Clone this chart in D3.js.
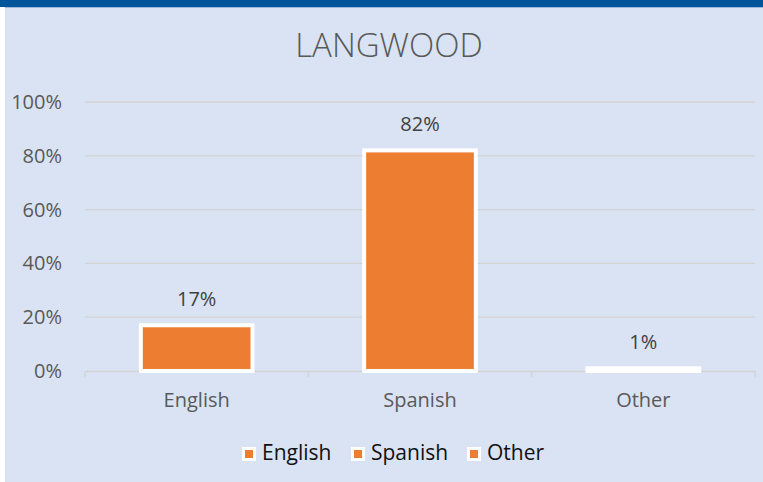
<!DOCTYPE html>
<html>
<head>
<meta charset="utf-8">
<script src="https://cdn.jsdelivr.net/npm/d3@7"></script>
<style>
  body { margin: 0; background: #fff; }
  text { font-family: "Open Sans", sans-serif; }
</style>
</head>
<body>
<div id="bar_chart"></div>
<script>
const categories = ["English", "Spanish", "Other"];
const values = [0.17, 0.82, 0.01];
const valueLabels = ["17%", "82%", "1%"];
const yTicks = [0, 0.2, 0.4, 0.6, 0.8, 1.0];
const title = "LANGWOOD";

const height = 482,
    width = 763,
    margin = ({ top: 102, right: 8, bottom: 111, left: 85 });

const svg = d3.select("#bar_chart")
    .append("svg")
    .attr("width", width)
    .attr("height", height);

// background + top band
svg.append("rect").attr("x", 5).attr("y", 8).attr("width", width - 5).attr("height", height - 8)
    .attr("fill", "#dae3f3");
svg.append("rect").attr("x", 0).attr("y", 0).attr("width", width).attr("height", 7)
    .attr("fill", "#00559b");
svg.append("rect").attr("x", 5).attr("y", 7).attr("width", width - 5).attr("height", 1)
    .attr("fill", "#9bb7dc");

const x = d3.scaleBand()
    .domain(categories)
    .range([margin.left, width - margin.right])
    .paddingInner(0.5)
    .paddingOuter(0.25);

const y = d3.scaleLinear()
    .domain([0, 1])
    .range([height - margin.bottom, margin.top]);

const gridColor = "#d3d3d3";

// gridlines
svg.append("g")
    .selectAll("line")
    .data(yTicks.slice(1))
    .join("line")
    .attr("x1", margin.left)
    .attr("x2", width - margin.right)
    .attr("y1", d => y(d))
    .attr("y2", d => y(d))
    .attr("stroke", gridColor)
    .attr("stroke-width", 1.3);

// y tick labels
svg.append("g")
    .selectAll("text")
    .data(yTicks)
    .join("text")
    .attr("x", 62)
    .attr("y", d => y(d))
    .attr("dy", "0.35em")
    .attr("text-anchor", "end")
    .attr("fill", "#595959")
    .style("font-size", "20px")
    .text(d => d3.format(".0%")(d));

// x axis
const gx = svg.append("g")
    .attr("transform", `translate(0,${y(0)})`)
    .call(d3.axisBottom(x).tickSize(0).tickPadding(22));
gx.select(".domain").attr("stroke", gridColor).attr("stroke-width", 1.3);
gx.selectAll(".tick text")
    .attr("fill", "#595959")
    .style("font-size", "20px")
    .style("font-family", "Open Sans, sans-serif");
gx.append("g")
    .selectAll("line")
    .data(d3.range(categories.length + 1))
    .join("line")
    .attr("x1", i => margin.left + i * x.step())
    .attr("x2", i => margin.left + i * x.step())
    .attr("y1", 0)
    .attr("y2", 6)
    .attr("stroke", gridColor)
    .attr("stroke-width", 1.3);

// bars
svg.append("g")
    .selectAll("rect")
    .data(values)
    .join("rect")
    .attr("x", (d, i) => x(categories[i]))
    .attr("y", d => y(d))
    .attr("width", x.bandwidth())
    .attr("height", d => y(0) - y(d))
    .attr("fill", "#ed7d31")
    .attr("stroke", "#ffffff")
    .attr("stroke-width", 4);

// value labels
svg.append("g")
    .selectAll("text")
    .data(values)
    .join("text")
    .attr("x", (d, i) => x(categories[i]) + x.bandwidth() / 2)
    .attr("y", d => y(d) - 19)
    .attr("text-anchor", "middle")
    .attr("fill", "#404040")
    .style("font-size", "20px")
    .text((d, i) => valueLabels[i]);

// title
svg.append("text")
    .attr("x", 389)
    .attr("y", 57)
    .attr("text-anchor", "middle")
    .attr("fill", "#595959")
    .style("font-size", "33px")
    .style("font-weight", 300)
    .text(title);

// legend
const legendX = [242, 351, 467];
const legend = svg.append("g")
    .selectAll("g")
    .data(categories)
    .join("g")
    .attr("transform", (d, i) => `translate(${legendX[i]},447)`);
legend.append("rect")
    .attr("width", 14).attr("height", 14)
    .attr("fill", "#ffffff");
legend.append("rect")
    .attr("x", 3).attr("y", 3)
    .attr("width", 8).attr("height", 8)
    .attr("fill", "#ed7d31");
legend.append("text")
    .attr("x", 20)
    .attr("y", 13)
    .attr("fill", "#111111")
    .style("font-size", "21px")
    .text(d => d);
</script>
</body>
</html>
